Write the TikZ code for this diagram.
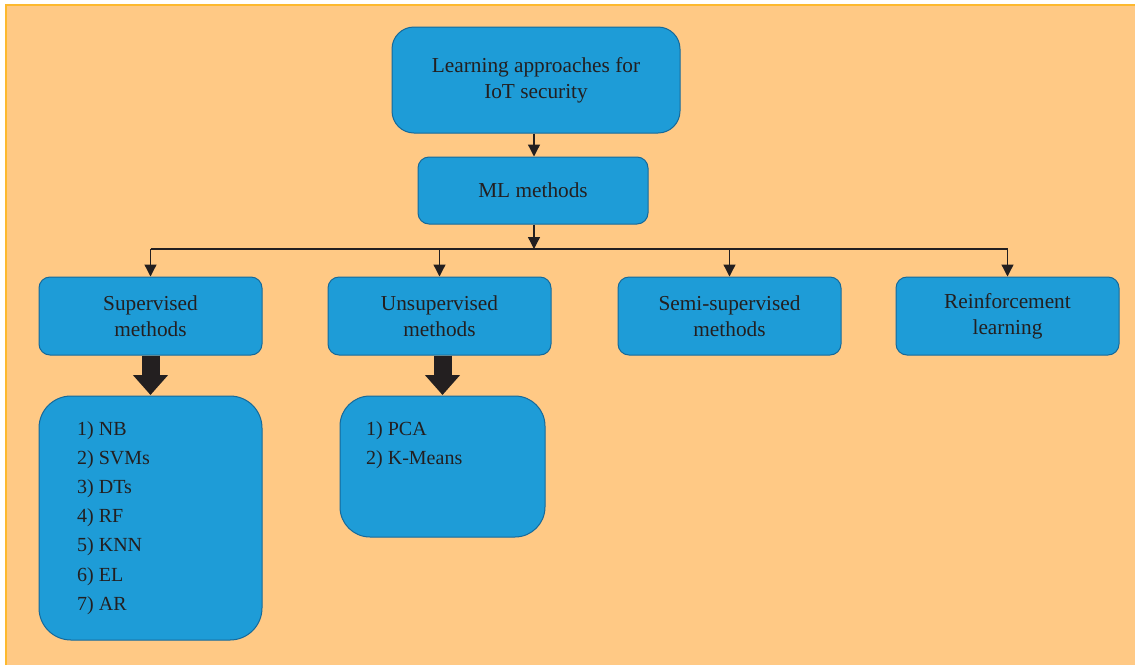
\documentclass[tikz,border=0pt]{standalone}
\usepackage{fontspec}
\setmainfont{Liberation Serif}
\usetikzlibrary{arrows.meta}
\definecolor{pagebg}{HTML}{FFC985}
\definecolor{pageedge}{HTML}{FDB92E}
\definecolor{boxfill}{HTML}{1E9CD7}
\definecolor{boxedge}{HTML}{16699A}
\definecolor{ink}{HTML}{231F20}
\tikzset{
  box/.style={draw=boxedge, fill=boxfill, line width=1pt, inner sep=0pt,
    text=ink, align=center, font=\fontsize{21.3}{26}\selectfont},
  listtext/.style={text=ink, align=left, inner sep=0pt, anchor=north west,
    font=\fontsize{20}{29.2}\selectfont},
  wire/.style={draw=ink, line width=1.3pt},
  link/.style={wire, -{Triangle[width=12pt,length=12pt]}},
  bigarrow/.style={draw=ink, line width=18pt, -{Triangle[width=34pt,length=20pt]}, shorten >=0.5pt}
}
\begin{document}
\begin{tikzpicture}[x=1pt,y=-1pt]
  \useasboundingbox (0,0) rectangle (1135,665);
  % page background with its top and left edge
  \fill[white] (0,0) rectangle (1135,665);
  \fill[pagebg] (6,5) rectangle (1135,665);
  \draw[pageedge, line width=1.6pt] (6,665) -- (6,5) -- (1135,5);

  % top of the tree
  \node[box, rounded corners=22pt, minimum width=288pt, minimum height=106pt]
    (root) at (536,80) {Learning approaches for\\IoT security};
  \node[box, rounded corners=11pt, minimum width=230pt, minimum height=67pt]
    (ml) at (533,190.5) {ML methods};

  % the four families of methods
  \node[box, rounded corners=11pt, minimum width=223pt, minimum height=78pt]
    (sup) at (150.5,316) {Supervised\\methods};
  \node[box, rounded corners=11pt, minimum width=223pt, minimum height=78pt]
    (unsup) at (439.5,316) {Unsupervised\\methods};
  \node[box, rounded corners=11pt, minimum width=223pt, minimum height=78pt]
    (semi) at (729.5,316) {Semi-supervised\\methods};
  \node[box, rounded corners=11pt, minimum width=223pt, minimum height=78pt]
    (rl) at (1007.5,316) {Reinforcement\\learning};

  % lists of algorithms
  \node[box, rounded corners=32pt, minimum width=223pt, minimum height=244pt]
    (suplist) at (150.5,518) {};
  \node[box, rounded corners=30pt, minimum width=205pt, minimum height=141pt]
    (unsuplist) at (442.5,466.5) {};
  \node[listtext] (suptext) at (77,421)
    {1) NB\\2) SVMs\\3) DTs\\4) RF\\5) KNN\\6) EL\\7) AR};
  \node[listtext] (unsuptext) at (366,421) {1) PCA\\2) K-Means};

  % connectors
  \coordinate (bus) at (534,249);
  \draw[link] (root.south -| bus) -- (ml.north -| bus);
  \draw[link] (ml.south -| bus) -- (bus);
  \draw[wire] (sup.north |- bus) -- (rl.north |- bus);
  \draw[link] (sup.north |- bus) -- (sup.north);
  \draw[link] (unsup.north |- bus) -- (unsup.north);
  \draw[link] (semi.north |- bus) -- (semi.north);
  \draw[link] (rl.north |- bus) -- (rl.north);
  \draw[bigarrow] (sup.south) -- (suplist.north);
  \draw[bigarrow] (unsup.south -| unsuplist.north) -- (unsuplist.north);
\end{tikzpicture}
\end{document}
